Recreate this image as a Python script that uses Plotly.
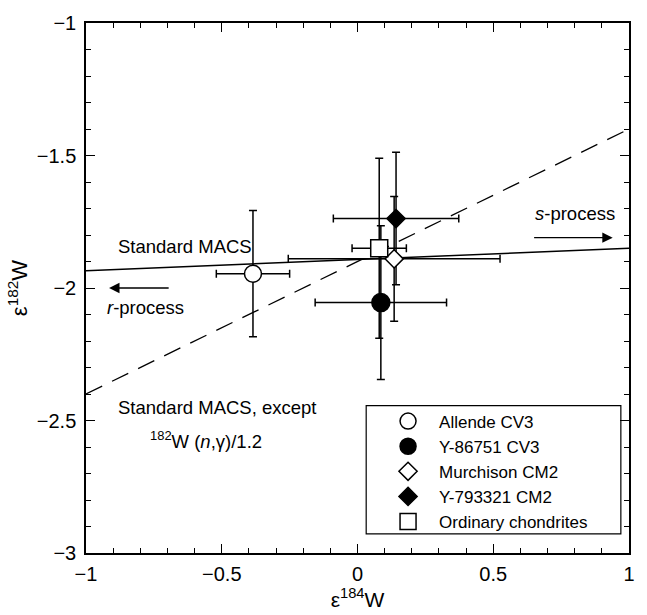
import plotly.graph_objects as go

# ---- data ----
names = ["Allende CV3", "Y-86751 CV3", "Murchison CM2", "Y-793321 CM2", "Ordinary chondrites"]
e184 = [-0.385, 0.086, 0.135, 0.142, 0.080]
e182 = [-1.946, -2.055, -1.890, -1.738, -1.850]
e184_err = [0.135, 0.242, 0.39, 0.231, 0.10]
e182_err = [0.238, 0.29, 0.235, 0.25, 0.34]
symbols = ["circle", "circle", "diamond", "diamond", "square"]
fills = ["white", "black", "white", "black", "white"]
sizes = [17, 18, 14, 14, 17]
legend_rank = [1, 2, 3, 4, 5]
draw_order = [0, 1, 3, 2, 4]

std_x = [-1, 1]
std_y = [-1.935, -1.85]
mod_x = [-1, 1]
mod_y = [-2.4, -1.4]

FONT = "Liberation Sans, Arial, Helvetica, sans-serif"

fig = go.Figure()
fig.add_trace(go.Scatter(x=std_x, y=std_y, mode="lines", line=dict(color="black", width=1.5),
                         showlegend=False, hoverinfo="skip"))
fig.add_trace(go.Scatter(x=mod_x, y=mod_y, mode="lines",
                         line=dict(color="black", width=1.3, dash="18px,11px"),
                         showlegend=False, hoverinfo="skip"))

for i in draw_order:
    fig.add_trace(go.Scatter(
        x=[e184[i]], y=[e182[i]], mode="markers", name=names[i],
        legendrank=legend_rank[i],
        marker=dict(symbol=symbols[i], size=sizes[i], color=fills[i],
                    line=dict(color="black", width=1.5)),
        error_x=dict(type="data", array=[e184_err[i]], color="black", thickness=1.5, width=4),
        error_y=dict(type="data", array=[e182_err[i]], color="black", thickness=1.5, width=4),
    ))

annots = [
    dict(x=-0.89, y=-1.845, text="Standard MACS", xanchor="left", yanchor="middle"),
    dict(x=-0.93, y=-2.075, text="<i>r</i>-process", xanchor="left", yanchor="middle"),
    dict(x=0.955, y=-1.72, text="<i>s</i>-process", xanchor="right", yanchor="middle"),
    dict(x=-0.89, y=-2.45, text="Standard MACS, except", xanchor="left", yanchor="middle"),
    dict(x=-0.77, y=-2.575, text="<sup>182</sup>W (<i>n</i>,γ)/1.2", xanchor="left", yanchor="middle"),
]
for a in annots:
    fig.add_annotation(**a, showarrow=False, xref="x", yref="y",
                       font=dict(family=FONT, size=18.5, color="black"))

# arrows
fig.add_annotation(x=-0.915, y=-2.0, ax=-0.69, ay=-2.0, xref="x", yref="y", axref="x", ayref="y",
                   text="", showarrow=True, arrowhead=2, arrowsize=1.6, arrowwidth=1.3, arrowcolor="black")
fig.add_annotation(x=0.94, y=-1.81, ax=0.645, ay=-1.81, xref="x", yref="y", axref="x", ayref="y",
                   text="", showarrow=True, arrowhead=2, arrowsize=1.6, arrowwidth=1.3, arrowcolor="black")

# legend box
fig.add_shape(type="rect", xref="paper", yref="paper", x0=0.516, x1=0.985, y0=0.036, y1=0.278,
              line=dict(color="black", width=1.2), fillcolor="white", layer="below")

axis_common = dict(showline=True, linecolor="black", linewidth=1.5, mirror="allticks",
                   ticks="inside", ticklen=9, tickwidth=1.3, tickcolor="black",
                   showgrid=False, zeroline=False,
                   tickfont=dict(family=FONT, size=20, color="black"),
                   minor=dict(ticks="inside", ticklen=5, tickwidth=1.1, tickcolor="black", dtick=0.1))

fig.update_layout(
    width=647, height=615,
    margin=dict(l=86, r=13, t=13, b=62),
    plot_bgcolor="white", paper_bgcolor="white",
    font=dict(family=FONT, size=19, color="black"),
    xaxis=dict(range=[-1, 1], tickvals=[-1, -0.5, 0, 0.5, 1], **axis_common,
               ticklabelstandoff=2,
               title=dict(text="ε<sup>184</sup>W", font=dict(family=FONT, size=21), standoff=2)),
    yaxis=dict(range=[-3, -1], tickvals=[-3, -2.5, -2, -1.5, -1], **axis_common,
               ticklabelstandoff=4,
               title=dict(text="ε<sup>182</sup>W", font=dict(family=FONT, size=22), standoff=3)),
    legend=dict(x=0.536, y=0.282, xanchor="left", yanchor="top",
                bgcolor="rgba(0,0,0,0)", borderwidth=0,
                font=dict(family=FONT, size=17, color="black"),
                itemwidth=52, tracegroupgap=0),
    showlegend=True,
)

fig.write_html("out.html", config={"displayModeBar": False},
               post_script="document.body.style.margin='0px';document.body.style.overflow='hidden';")
